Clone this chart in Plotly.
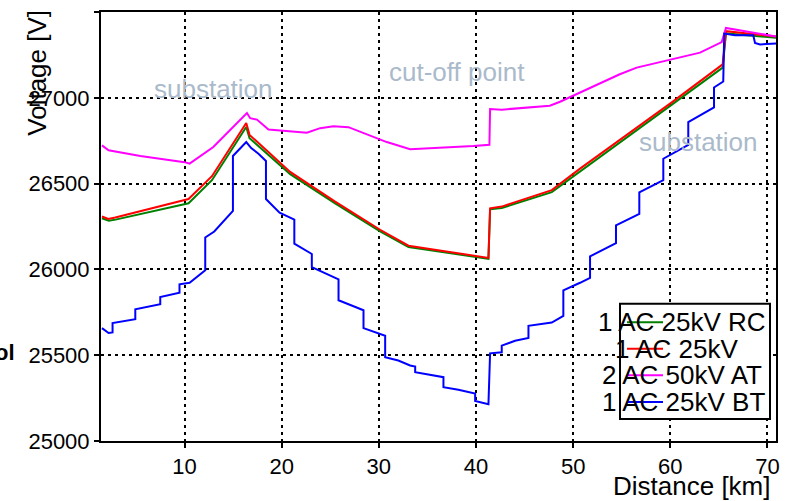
import plotly.graph_objects as go

# ---------------- data ----------------
series_names = ["1 AC 25kV RC", "1 AC 25kV", "2 AC 50kV AT", "1 AC 25kV BT"]
series_colors = ["#008000", "#ff0000", "#ff00ff", "#0000ff"]

x_rc = [1.5, 2.2, 2.9, 10.41, 12.82, 16.35, 16.69, 20.87, 25.5, 30.13, 33.05, 41.28,
        41.45, 42.65, 47.8, 50.71, 60.15, 65.39, 65.73, 70.9]
v_rc = [26298, 26283, 26290, 26385, 26520, 26830, 26765, 26555, 26385, 26222, 26130, 26062,
        26350, 26358, 26450, 26570, 26955, 27176, 27375, 27350]

x_ac = [1.5, 2.15, 2.87, 10.41, 12.82, 16.35, 16.69, 20.87, 25.5, 30.13, 33.05, 41.28,
        41.45, 42.65, 47.8, 50.71, 60.15, 65.39, 65.73, 70.9]
v_ac = [26308, 26294, 26302, 26410, 26543, 26853, 26784, 26568, 26395, 26231, 26138, 26067,
        26356, 26366, 26462, 26587, 26973, 27195, 27388, 27357]

x_at = [1.5, 2.18, 5.45, 10.0, 10.52, 12.96, 16.42, 16.76, 17.45, 18.64, 22.59, 23.96,
        25.33, 26.87, 30.82, 33.22, 39.73, 41.38, 41.45, 42.65, 47.6, 48.65, 54.8, 56.54,
        63.06, 65.29, 65.73, 68.54, 70.9]
v_at = [26723, 26694, 26661, 26625, 26616, 26713, 26911, 26881, 26873, 26815, 26796, 26823,
        26834, 26829, 26742, 26700, 26719, 26726, 26935, 26931, 26954, 26977, 27137, 27176,
        27263, 27325, 27407, 27382, 27357]

x_bt = [1.5, 2.18, 2.59, 2.59, 4.93, 4.93, 7.5, 7.5, 9.48, 9.48, 10.52, 12.13, 12.13,
        13.06, 14.98, 14.98, 16.35, 16.86, 17.61, 18.38, 18.38, 19.78, 20.87, 21.3, 21.3,
        23.1, 23.1, 25.85, 25.85, 28.42, 28.42, 30.65, 30.65, 32.0, 33.22, 33.74, 33.74,
        36.65, 36.65, 38.19, 39.91, 39.91, 41.28, 41.45, 42.65, 42.65, 44.02, 45.4, 45.4,
        47.8, 48.99, 48.99, 50.71, 51.74, 51.74, 54.41, 54.41, 56.81, 56.81, 59.28, 59.28,
        61.85, 61.85, 64.5, 64.5, 65.45, 65.55, 66.65, 68.54, 68.72, 69.23, 70.9]
v_bt = [25658, 25629, 25633, 25687, 25710, 25768, 25797, 25839, 25864, 25913, 25922, 25995, 26186,
        26221, 26341, 26661, 26742, 26707, 26674, 26632, 26410, 26331, 26302, 26290, 26150,
        26090, 26013, 25942, 25820, 25762, 25658, 25613, 25488, 25469, 25440, 25434, 25401,
        25372, 25314, 25299, 25276, 25233, 25214, 25511, 25517, 25556, 25584, 25600, 25671,
        25690, 25729, 25878, 25922, 25951, 26076, 26153, 26256, 26323, 26449, 26520, 26645,
        26726, 26858, 26944, 27060, 27095, 27374, 27365, 27365, 27320, 27311, 27316]

x_ticks = [10, 20, 30, 40, 50, 60, 70]
y_ticks = [25000, 25500, 26000, 26500, 27000, 27500]
y_tick_labels = ["25000", "25500", "26000", "26500", "27000", "27500"]

annot_texts = ["substation", "cut-off point", "substation"]

# ---------------- figure ----------------
fig = go.Figure()
for xs, vs, name, col in zip([x_rc, x_ac, x_at, x_bt], [v_rc, v_ac, v_at, v_bt],
                             series_names, series_colors):
    fig.add_trace(go.Scatter(x=xs, y=vs, mode="lines", name=name,
                             line=dict(color=col, width=2), showlegend=False))

# plot area in pixels
L, R, T, B = 101, 776, 10, 441
W, H = R - L, B - T


def px(x):
    return (x - L) / W


def py(y):
    return (B - y) / H


annotations = []
# grey labels
for txt, cx, cy in zip(annot_texts, [213, 457, 698], [87, 70, 141]):
    annotations.append(dict(text=txt, xref="paper", yref="paper", x=px(cx), y=py(cy),
                            xanchor="center", yanchor="middle", showarrow=False,
                            font=dict(size=26, color="#aabacb")))
# axis titles
annotations.append(dict(text="Voltage [V]", xref="paper", yref="paper", x=px(37), y=py(71),
                        xanchor="center", yanchor="middle", textangle=-90, showarrow=False,
                        font=dict(size=26, color="black")))
annotations.append(dict(text="Distance [km]", xref="paper", yref="paper", x=px(773), y=py(486),
                        xanchor="right", yanchor="middle", showarrow=False,
                        font=dict(size=26, color="black")))
# clipped fragment at left edge
annotations.append(dict(text="<b>ol</b>", xref="paper", yref="paper", x=px(17), y=py(352),
                        xanchor="right", yanchor="middle", showarrow=False,
                        font=dict(size=22, color="black")))

shapes = []
# manual legend
shapes.append(dict(type="rect", xref="paper", yref="paper", x0=px(620), x1=px(770),
                   y0=py(303), y1=py(419), line=dict(color="black", width=2),
                   fillcolor="white", layer="above"))
row_y = [321.7, 348.3, 375, 401.7]
text_cx = [682, 677, 682, 683]
for name, col, ry, tx in zip(series_names, series_colors, row_y, text_cx):
    annotations.append(dict(text=name, xref="paper", yref="paper", x=px(tx), y=py(ry),
                            xanchor="center", yanchor="middle", showarrow=False,
                            font=dict(size=26, color="black")))
    shapes.append(dict(type="line", xref="paper", yref="paper", x0=px(627), x1=px(663),
                       y0=py(ry), y1=py(ry), line=dict(color=col, width=2), layer="above"))

axis_common = dict(showline=True, linecolor="black", linewidth=2, mirror=True,
                   ticks="outside", ticklen=5, tickwidth=2, tickcolor="black",
                   showgrid=True, gridcolor="black", gridwidth=1.6, griddash="3px,4px",
                   zeroline=False, tickfont=dict(size=22, color="black",
                                                 family="Arial, Liberation Sans"))

fig.update_layout(
    width=790, height=501,
    margin=dict(l=L, r=790 - R, t=T, b=501 - B),
    plot_bgcolor="white", paper_bgcolor="white",
    font=dict(family="Arial, Liberation Sans", color="black"),
    xaxis=dict(range=[1.4, 70.88], tickvals=x_ticks, **axis_common),
    yaxis=dict(range=[25000, 27500], tickvals=y_ticks, ticktext=y_tick_labels, **axis_common),
    annotations=annotations, shapes=shapes, showlegend=False,
)

fig.write_html("out.html")
